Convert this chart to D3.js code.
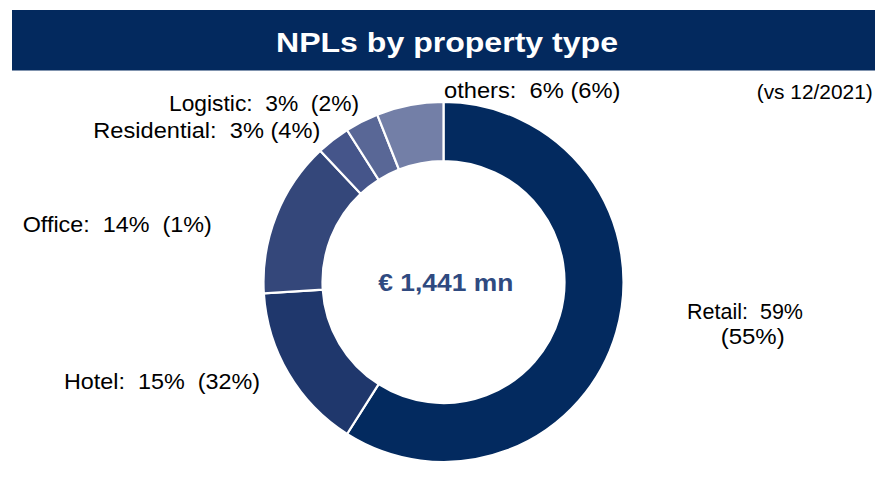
<!DOCTYPE html>
<html><head><meta charset="utf-8">
<script src="https://cdn.jsdelivr.net/npm/d3@7"></script>
<style>
body{margin:0;background:#fff;}
text{font-family:"Liberation Sans",Arial,sans-serif;white-space:pre;}
</style></head>
<body>
<svg id="c" width="875" height="494"></svg>
<script>
const categories = ["Retail","Hotel","Office","Residential","Logistic","others"];
const values = [59,15,14,3,3,6];
const prevValues = [55,32,1,4,2,6];
const colors = ["#032a5f","#1f376c","#34477a","#45558a","#596796","#737fa7"];
const title = "NPLs by property type";
const totalLabel = "€ 1,441 mn";
const compareNote = "(vs 12/2021)";

const svg = d3.select("#c");
svg.append("rect").attr("x",12).attr("y",10).attr("width",863).attr("height",60.5).attr("fill","#03295e");
svg.append("text").attr("x",276).attr("y",51.7)
  .attr("fill","#fff").attr("font-weight","bold").attr("font-size",28)
  .attr("textLength",342).attr("lengthAdjust","spacingAndGlyphs").text(title);

const cx=443.5, cy=282;
const g = svg.append("g").attr("transform",`translate(${cx},${cy})`);
const pie = d3.pie().sort(null).value(d=>d.v);
const arcs = pie(categories.map((c,i)=>({c,v:values[i],p:prevValues[i],col:colors[i]})));
const arc = d3.arc().innerRadius(121).outerRadius(180);
g.selectAll("path").data(arcs).join("path").attr("d",arc)
  .attr("fill",d=>d.data.col).attr("stroke","#fff").attr("stroke-width",2.2);

svg.append("text").attr("x",378.3).attr("y",291)
 .attr("font-weight","bold").attr("font-size",24.5).attr("fill","#2f4a80")
 .attr("textLength",135).attr("lengthAdjust","spacingAndGlyphs").text(totalLabel);

const fs=22.5;
const labelPos = {
  Retail:{x:687,y:319.3,w:116,gap:"",x2:720.7,y2:344.3,w2:64},
  Hotel:{x:64,y:389.3,w:196,gap:"  "},
  Office:{x:22.7,y:231.7,w:189,gap:"  "},
  Residential:{x:93.3,y:138.3,w:227,gap:" "},
  Logistic:{x:169,y:111,w:190,gap:"  "},
  others:{x:444,y:97.7,w:176.5,gap:" "}
};
arcs.forEach(a=>{
  const d=a.data, p=labelPos[d.c];
  if(d.c==="Retail"){
    svg.append("text").attr("x",p.x).attr("y",p.y).attr("font-size",fs).attr("fill","#000")
      .attr("textLength",p.w).attr("lengthAdjust","spacingAndGlyphs").text(`${d.c}:  ${d.v}%`);
    svg.append("text").attr("x",p.x2).attr("y",p.y2).attr("font-size",fs).attr("fill","#000")
      .attr("textLength",p.w2).attr("lengthAdjust","spacingAndGlyphs").text(`(${d.p}%)`);
  } else {
    svg.append("text").attr("x",p.x).attr("y",p.y).attr("font-size",fs).attr("fill","#000")
      .attr("textLength",p.w).attr("lengthAdjust","spacingAndGlyphs")
      .text(`${d.c}:  ${d.v}%${p.gap}(${d.p}%)`);
  }
});
svg.append("text").attr("x",756.7).attr("y",99).attr("font-size",20).attr("fill","#000")
  .attr("textLength",116).attr("lengthAdjust","spacingAndGlyphs").text(compareNote);
</script>
</body></html>
